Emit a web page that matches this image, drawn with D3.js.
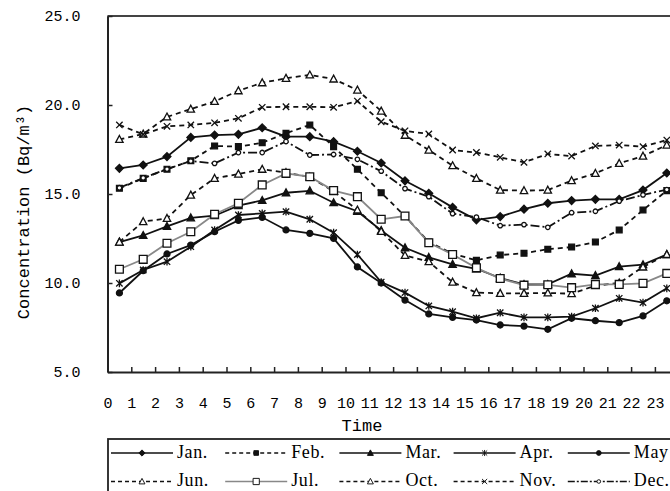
<!DOCTYPE html>
<html>
<head>
<meta charset="utf-8">
<script src="https://cdn.jsdelivr.net/npm/d3@7/dist/d3.min.js"></script>
<style>
body { margin: 0; background: #fff; }
</style>
</head>
<body>
<script>
// hours of the day (category labels)
var hours = ["0","1","2","3","4","5","6","7","8","9","10","11","12","13","14","15","16","17","18","19","20","21","22","23"];
var yTicks = [5, 10, 15, 20, 25];

// monthly radon concentration, Bq/m3
var jan = [16.44,16.63,17.1,18.18,18.31,18.35,18.72,18.22,18.22,17.94,17.4,16.74,15.74,15.04,14.25,13.55,13.73,14.15,14.48,14.63,14.7,14.7,15.22,16.18];
var feb = [15.32,15.88,16.39,16.87,17.7,17.66,17.88,18.41,18.88,17.66,16.39,15.07,13.76,12.3,11.65,11.27,11.57,11.67,11.9,12.02,12.3,12.98,14.1,15.19];
var mar = [12.3,12.67,13.18,13.66,13.78,14.35,14.64,15.07,15.18,14.51,14.03,12.95,11.98,11.44,11.05,10.8,10.28,9.92,9.92,10.52,10.42,10.92,11.03,11.6];
var apr = [9.98,10.73,11.2,12.04,12.98,13.82,13.91,14.01,13.58,12.83,11.6,10.05,9.46,8.71,8.39,8.02,8.33,8.07,8.07,8.11,8.58,9.14,8.9,9.7];
var may = [9.44,10.69,11.63,12.13,12.88,13.52,13.69,12.98,12.79,12.51,10.9,10.0,9.04,8.26,8.07,7.92,7.64,7.58,7.4,8.02,7.88,7.77,8.15,9.0];
var jun = [12.3,13.45,13.63,14.94,15.88,16.12,16.39,16.2,15.95,15.15,14.1,12.9,11.55,11.2,10.05,9.46,9.42,9.42,9.44,9.4,9.85,10.0,10.9,11.6];
var jul = [10.77,11.33,12.23,12.88,13.86,14.48,15.51,16.16,15.97,15.19,14.85,13.58,13.76,12.26,11.6,10.85,10.25,9.88,9.9,9.74,9.92,9.92,9.98,10.54];
var oct = [18.07,18.37,19.33,19.77,20.2,20.8,21.25,21.5,21.69,21.46,20.84,19.66,18.3,17.47,16.59,15.88,15.22,15.19,15.22,15.75,16.16,16.72,17.13,17.75];
var nov = [18.88,18.35,18.8,18.88,19.0,19.25,19.87,19.9,19.9,19.87,20.22,19.06,18.55,18.37,17.47,17.33,17.06,16.78,17.25,17.13,17.7,17.75,17.66,18.03];
var dec = [15.35,15.9,16.4,16.85,16.72,17.33,17.33,17.95,17.19,17.22,16.95,16.28,15.3,14.85,13.9,13.7,13.22,13.28,13.13,13.95,14.03,14.6,14.95,15.25];

var series = [
  {name: "Jan.", values: jan, dash: null, stroke: "#111", marker: "diamond", fill: "#111"},
  {name: "Feb.", values: feb, dash: "5,4", stroke: "#111", marker: "square", fill: "#111"},
  {name: "Mar.", values: mar, dash: null, stroke: "#111", marker: "triangle", fill: "#111"},
  {name: "Apr.", values: apr, dash: null, stroke: "#111", marker: "star", fill: "none"},
  {name: "May", values: may, dash: null, stroke: "#111", marker: "circle", fill: "#111"},
  {name: "Jun.", values: jun, dash: "5,4", stroke: "#111", marker: "triangle", fill: "#fff"},
  {name: "Jul.", values: jul, dash: null, stroke: "#888", marker: "bigsquare", fill: "#fff"},
  {name: "Oct.", values: oct, dash: "5,4", stroke: "#111", marker: "triangle", fill: "#fff"},
  {name: "Nov.", values: nov, dash: "5,4", stroke: "#111", marker: "x", fill: "none"},
  {name: "Dec.", values: dec, dash: "9,3,2,3", stroke: "#111", marker: "smallcircle", fill: "#fff"}
];

var w = 670, h = 491;
var plotLeft = 107.5, plotTop = 16, plotBottom = 372, plotRight = 678.7;

var svg = d3.select("body").append("svg")
    .attr("width", w)
    .attr("height", h)
    .style("font-family", "'Liberation Mono', monospace");

var x = d3.scaleBand().domain(hours).range([plotLeft, plotRight]);
var xt = d3.scaleLinear().domain([0, hours.length]).range([plotLeft, plotRight]);
var y = d3.scaleLinear().domain([5, 25]).range([plotBottom, plotTop]);

function markerPath(type) {
  switch (type) {
    case "diamond": return "M0,-3.9L3.9,0L0,3.9L-3.9,0Z";
    case "square": return "M-2.9,-2.9H2.9V2.9H-2.9Z";
    case "bigsquare": return "M-3.9,-3.9H3.9V3.9H-3.9Z";
    case "triangle": return "M0,-3.9L3.7,3L-3.7,3Z";
    case "x": return "M-3.2,-3.2L3.2,3.2M-3.2,3.2L3.2,-3.2";
    case "star": return "M-3.2,-3.2L3.2,3.2M-3.2,3.2L3.2,-3.2M0,-3.8V3.8";
    case "circle": return d3.symbol(d3.symbolCircle, 28)();
    case "smallcircle": return d3.symbol(d3.symbolCircle, 16)();
  }
}

// frame: top border
svg.append("line")
    .attr("x1", plotLeft).attr("x2", w)
    .attr("y1", plotTop).attr("y2", plotTop)
    .attr("stroke", "#444").attr("stroke-width", 2);

// y axis
var yAxis = svg.append("g")
    .attr("transform", "translate(" + plotLeft + ",0)")
    .call(d3.axisLeft(y).tickValues(yTicks).tickFormat(d3.format(".1f"))
          .tickSize(-5).tickSizeOuter(0).tickPadding(27));
yAxis.select(".domain").attr("stroke", "#222").attr("stroke-width", 2);
yAxis.selectAll(".tick line").attr("stroke", "#222").attr("stroke-width", 1.5);
yAxis.selectAll(".tick text").attr("font-size", 15).attr("fill", "#000")
    .attr("font-family", "'Liberation Mono', monospace");

// x axis, labels sit on the tick marks between categories
var xAxis = svg.append("g")
    .attr("transform", "translate(0," + plotBottom + ")")
    .call(d3.axisBottom(xt).tickValues(hours.map(Number))
          .tickFormat(function(d) { return hours[d]; })
          .tickSize(-5).tickSizeOuter(0).tickPadding(25));
xAxis.select(".domain").attr("stroke", "#222").attr("stroke-width", 2);
xAxis.selectAll(".tick line").attr("stroke", "#222").attr("stroke-width", 1.5)
    .filter(function(d) { return d === 0; }).remove();
xAxis.selectAll(".tick text").attr("font-size", 15).attr("fill", "#000")
    .attr("font-family", "'Liberation Mono', monospace");

// axis titles
svg.append("text")
    .attr("transform", "translate(24,212) rotate(-90)")
    .attr("text-anchor", "middle")
    .attr("dominant-baseline", "central")
    .attr("font-size", 17)
    .attr("fill", "#000")
    .text("Concentration (Bq/m³)");

svg.append("text")
    .attr("x", 362).attr("y", 431)
    .attr("text-anchor", "middle")
    .attr("font-size", 17)
    .attr("fill", "#000")
    .text("Time");

// lines and markers
var line = d3.line()
    .x(function(d, i) { return x(hours[i]) + x.bandwidth() / 2; })
    .y(function(d) { return y(d); });

var plot = svg.append("g");

series.forEach(function(s) {
  var g = plot.append("g");
  g.append("path")
      .datum(s.values)
      .attr("d", line)
      .attr("fill", "none")
      .attr("stroke", s.stroke)
      .attr("stroke-width", 1.8)
      .attr("stroke-dasharray", s.dash);
  g.selectAll("path.m")
      .data(s.values)
      .enter()
      .append("path")
      .attr("class", "m")
      .attr("d", markerPath(s.marker))
      .attr("transform", function(d, i) {
        return "translate(" + (x(hours[i]) + x.bandwidth() / 2) + "," + y(d) + ")";
      })
      .attr("fill", s.fill)
      .attr("stroke", "#111")
      .attr("stroke-width", 1.3);
});

// legend
var legend = svg.append("g");
legend.append("rect")
    .attr("x", 108).attr("y", 439)
    .attr("width", 620).attr("height", 80)
    .attr("fill", "#fff")
    .attr("stroke", "#222").attr("stroke-width", 1.8);

var colW = 114.2, rowH = 28.5;
series.forEach(function(s, i) {
  var cx = 111 + (i % 5) * colW;
  var cy = 453 + Math.floor(i / 5) * rowH;
  var item = legend.append("g").attr("transform", "translate(" + cx + "," + cy + ")");
  var legendDash = s.name === "Dec." ? "7,2,2,2" : (s.dash ? "4,3" : null);
  item.append("line")
      .attr("x1", 0).attr("x2", 62)
      .attr("stroke", s.stroke)
      .attr("stroke-width", 1.6)
      .attr("stroke-dasharray", legendDash);
  item.append("path")
      .attr("d", markerPath(s.marker))
      .attr("transform", "translate(31,0) scale(0.8)")
      .attr("fill", s.fill)
      .attr("stroke", "#111")
      .attr("stroke-width", 1.2);
  item.append("text")
      .attr("x", 66).attr("y", 4.5)
      .attr("font-family", "'Liberation Serif', serif")
      .attr("font-size", 18)
      .attr("letter-spacing", 0.6)
      .attr("fill", "#000")
      .text(s.name);
});
</script>
</body>
</html>
